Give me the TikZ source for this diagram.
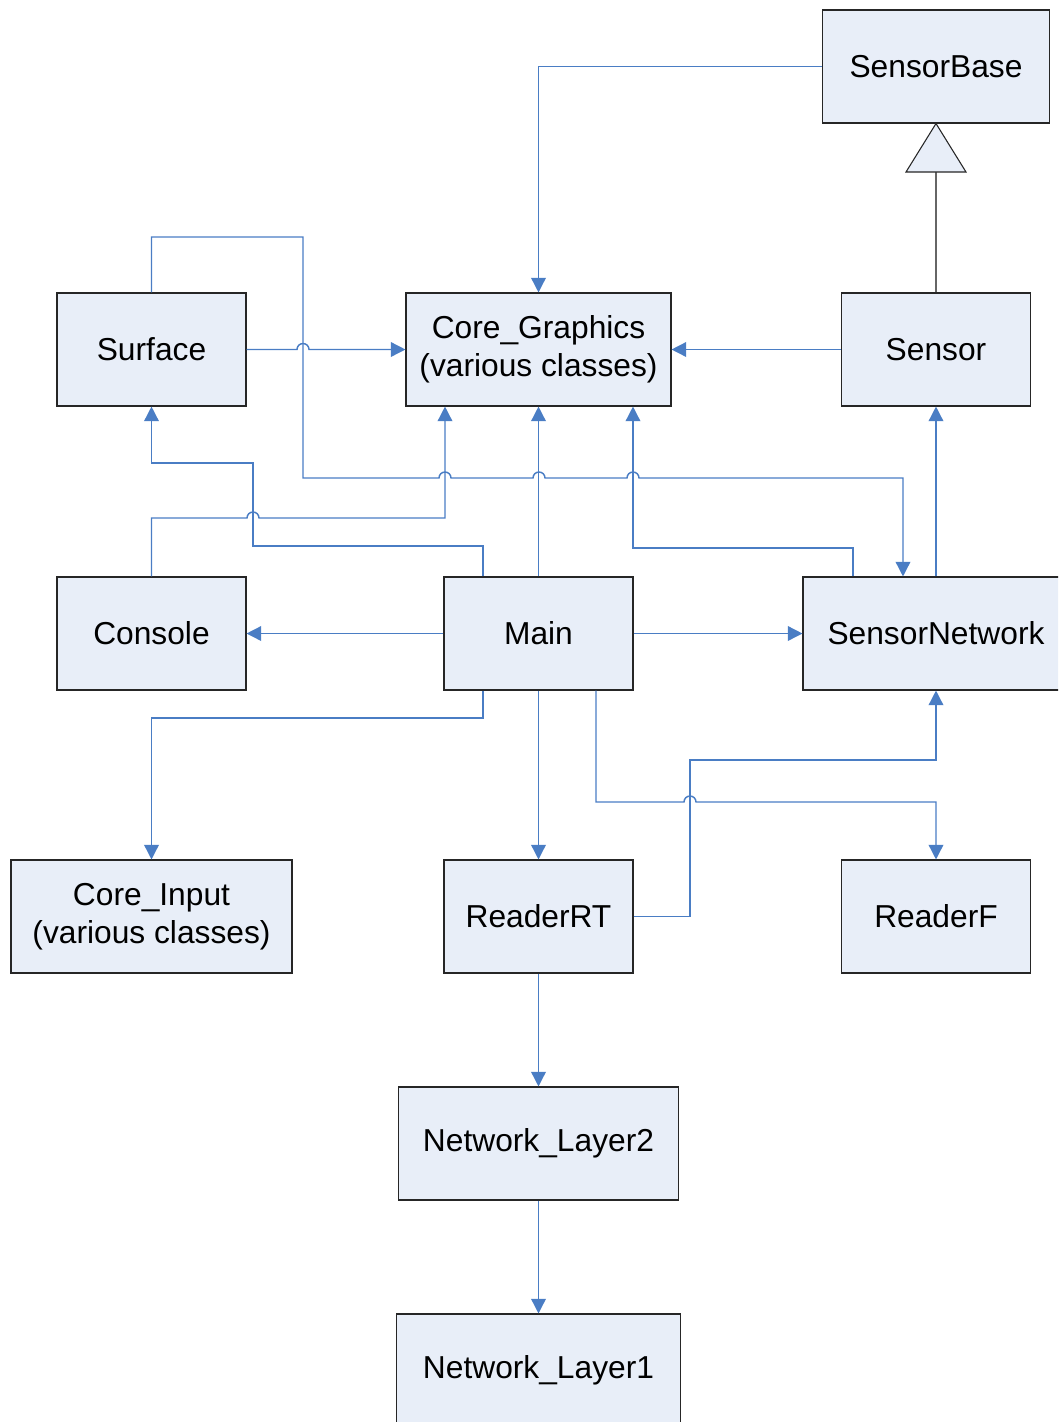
\documentclass[tikz,border=0pt]{standalone}
\usepackage{fontspec}
\setmainfont{Liberation Sans}
\usetikzlibrary{arrows.meta}
\definecolor{conncol}{HTML}{4A7DC4}
\definecolor{boxfill}{HTML}{E8EEF8}
\definecolor{boxline}{HTML}{262626}
\begin{document}
\begin{tikzpicture}[x=0.75pt,y=-0.75pt,
  cls/.style={draw=boxline, fill=boxfill, line width=0.8pt, minimum height=84.75pt,
    inner sep=0pt, align=center, font=\fontsize{23.8}{28.5}\selectfont},
  conn/.style={draw=conncol, line width=1.1pt, -{Triangle[length=11pt,width=11pt]}},
  inherit/.style={draw=black!60, line width=1.3pt},
  hoparc/.style={start angle=180, end angle=0, radius=4.5pt}]
\useasboundingbox (0,0) rectangle (1058,1422);
\clip (0,0) rectangle (1058,1422);

% helper coordinates
\coordinate (v445) at (445,0);
\coordinate (v483) at (483,0);
\coordinate (v596) at (596,0);
\coordinate (v633) at (633,0);
\coordinate (v853) at (853,0);
\coordinate (v903) at (903,0);

% nodes
\node[cls, minimum width=170.25pt] (SB) at (936,66.5) {SensorBase};
\node[cls, minimum width=141.75pt] (Surface) at (151.5,349.5) {Surface};
\node[cls, minimum width=198.75pt] (CoreG) at (538.5,349.5) {Core\_Graphics\\(various classes)};
\node[cls, minimum width=141.75pt] (Sensor) at (936,349.5) {Sensor};
\node[cls, minimum width=141.75pt] (Console) at (151.5,633.5) {Console};
\node[cls, minimum width=141.75pt] (Main) at (538.5,633.5) {Main};
\node[cls, minimum width=199.5pt] (SN) at (936,633.5) {SensorNetwork};
\node[cls, minimum width=210.75pt] (CoreIn) at (151.5,916.5) {Core\_Input\\(various classes)};
\node[cls, minimum width=141.75pt] (RRT) at (538.5,916.5) {ReaderRT};
\node[cls, minimum width=141.75pt] (RF) at (936,916.5) {ReaderF};
\node[cls, minimum width=210pt] (NL2) at (538.5,1143.5) {Network\_Layer2};
\node[cls, minimum width=213pt] (NL1) at (538.5,1370.5) {Network\_Layer1};

% inheritance Sensor -> SensorBase
\coordinate (tb) at (936,172);
\draw[inherit] (Sensor.north) -- (tb);
\draw[draw=boxline, fill=boxfill, line width=0.8pt] (SB.south) -- (966,172) -- (906,172) -- cycle;

% connectors
\draw[conn] (SB.west) -| (CoreG.north);
\draw[conn] (Sensor.west) -- (CoreG.east);
\draw[conn] (Surface.east) -- (297,349.5) arc[hoparc] -- (CoreG.west);
\draw[conn] (Surface.north) |- (303,237) -- (303,478) -- (439,478) arc[hoparc]
  -- (533,478) arc[hoparc] -- (627,478) arc[hoparc] -- (903,478) -- (SN.north -| v903);
\draw[conn] (Main.north) -- (CoreG.south);
\draw[conn] (Console.north) |- (247,518) arc[hoparc] -- (445,518) -- (CoreG.south -| v445);
\draw[conn] (Main.north -| v483) |- (253,546) -- (253,463) -| (Surface.south);
\draw[conn] (SN.north -| v853) |- (633,548) -- (CoreG.south -| v633);
\draw[conn] (SN.north) -- (Sensor.south);
\draw[conn] (Main.west) -- (Console.east);
\draw[conn] (Main.east) -- (SN.west);
\draw[conn] (Main.south -| v483) |- (151.5,718) -- (CoreIn.north);
\draw[conn] (Main.south) -- (RRT.north);
\draw[conn] (Main.south -| v596) |- (684,802) arc[hoparc] -- (936,802) -- (RF.north);
\draw[conn] (RRT.east) -| (690,760) -| (SN.south);
\draw[conn] (RRT.south) -- (NL2.north);
\draw[conn] (NL2.south) -- (NL1.north);
\end{tikzpicture}
\end{document}
